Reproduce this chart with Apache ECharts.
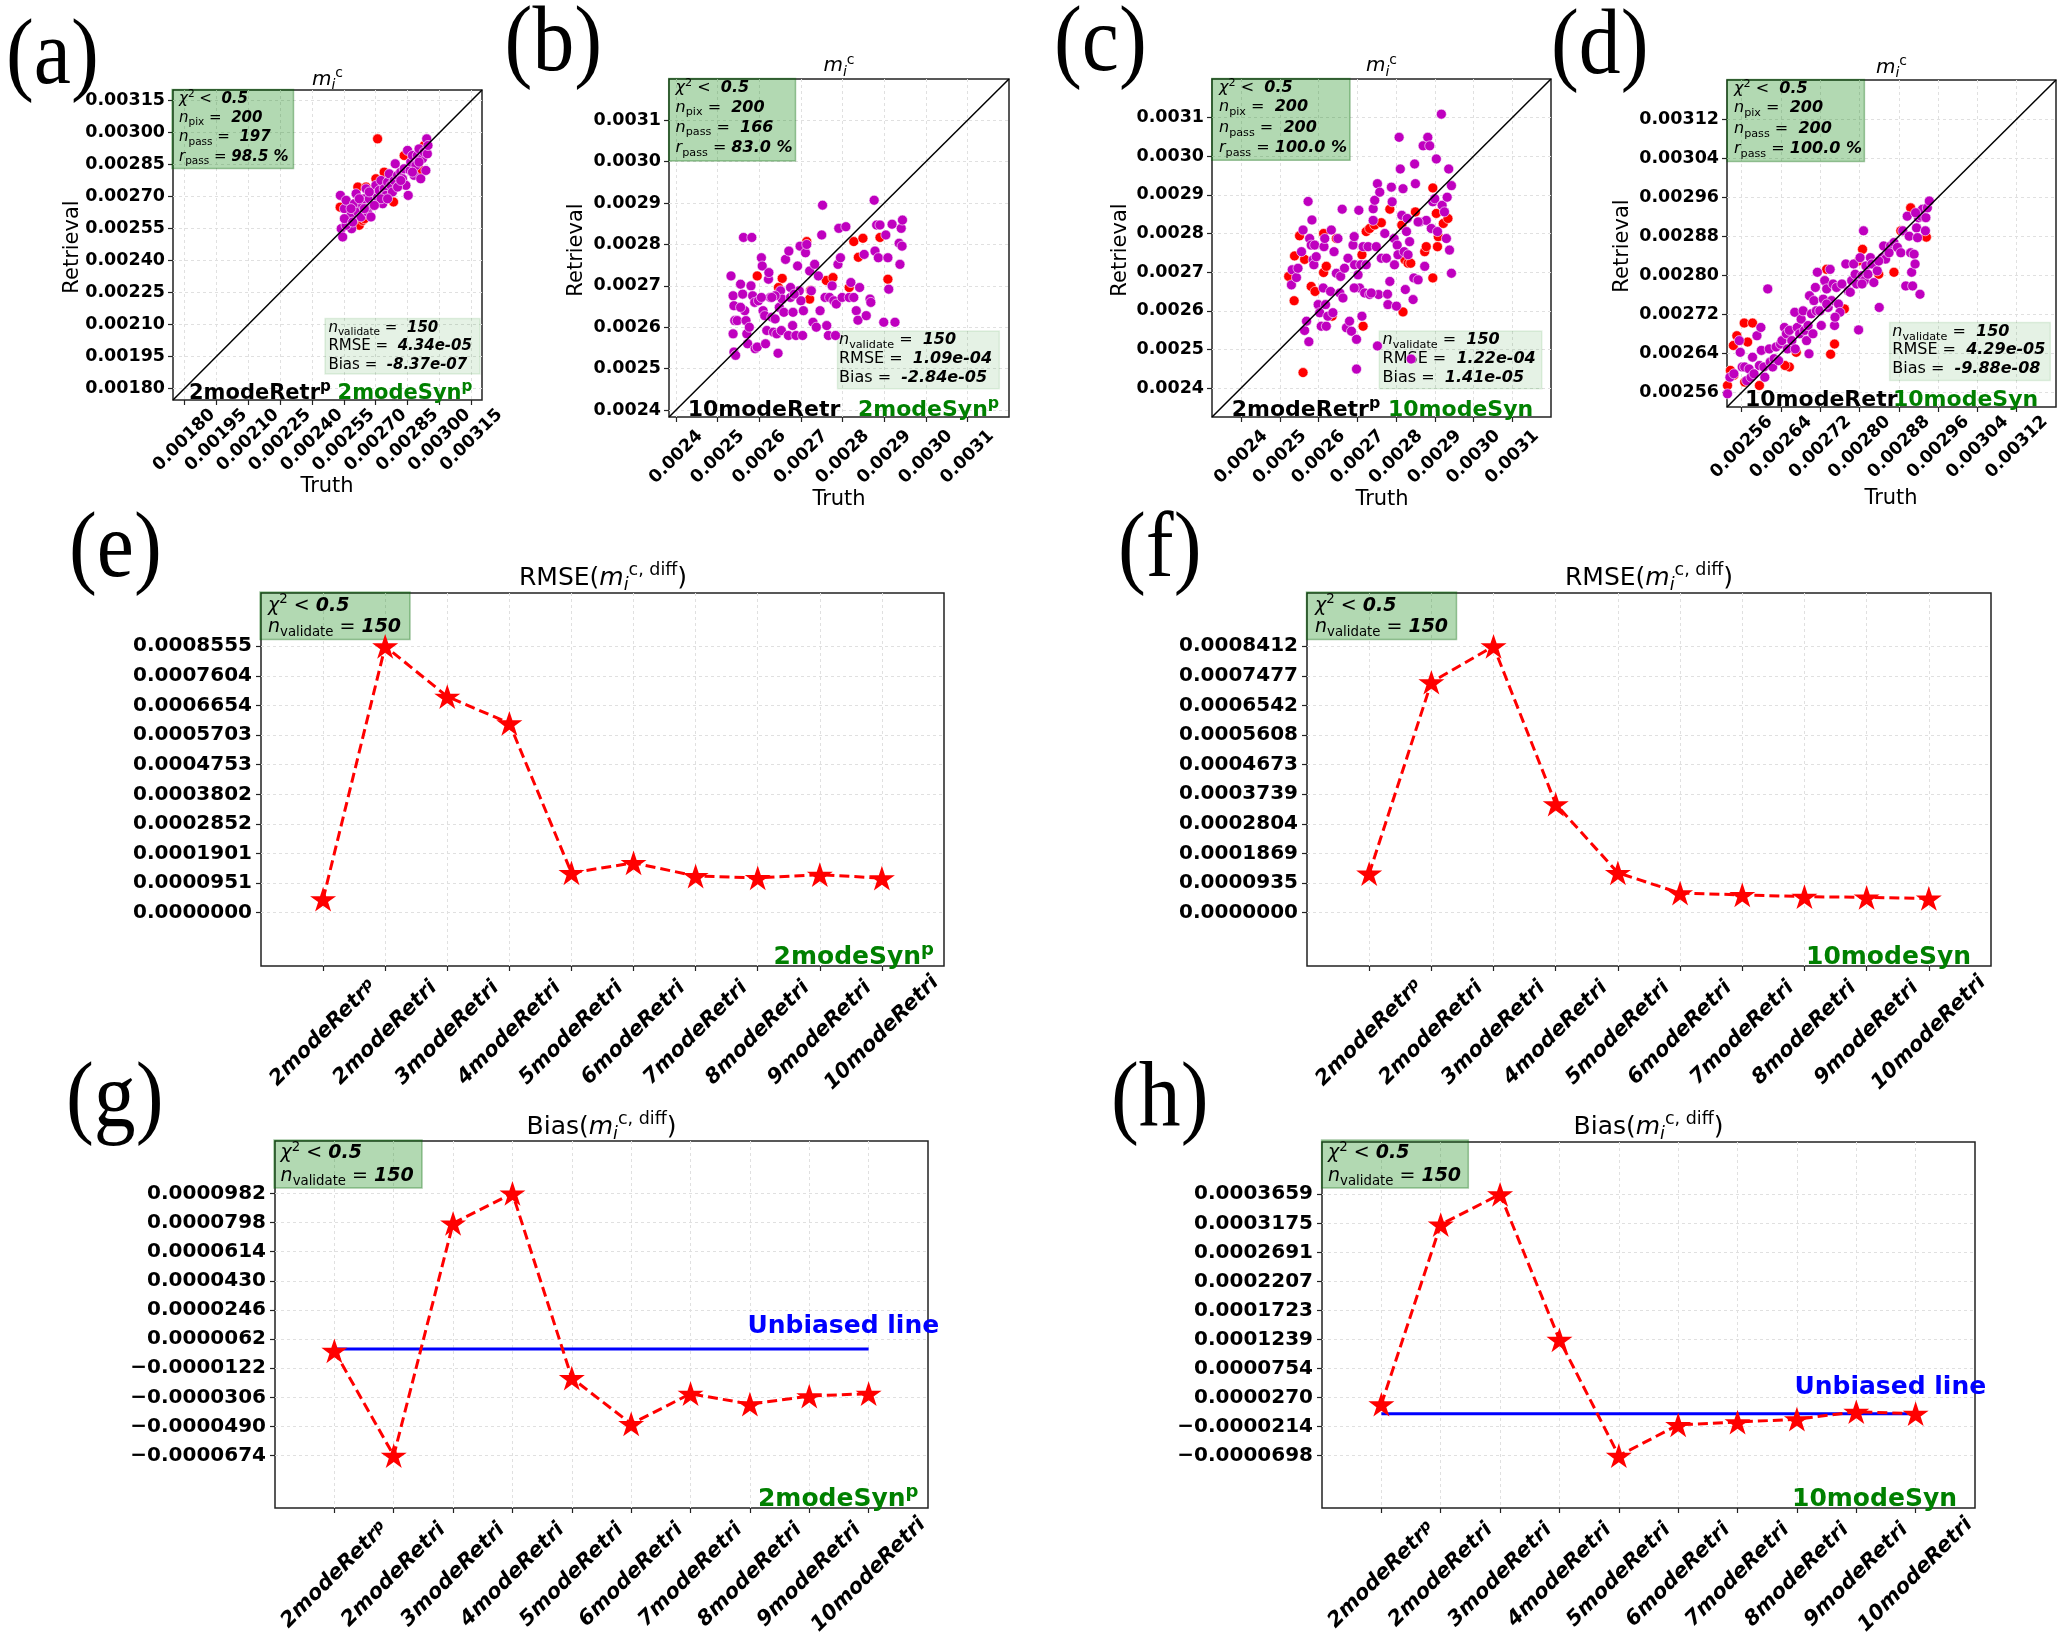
<!DOCTYPE html>
<html>
<head>
<meta charset="utf-8">
<script src="https://cdn.jsdelivr.net/npm/echarts@6.0.0/dist/echarts.min.js"></script>
<style>
html,body{margin:0;padding:0;background:#fff;}
#chart{width:2067px;height:1645px;}
</style>
</head>
<body>
<div id="chart"></div>
<script>
// ================= DATA =================
// tick labels
const ticksA  = [0.00180,0.00195,0.00210,0.00225,0.00240,0.00255,0.00270,0.00285,0.00300,0.00315];
const ticksBC = [0.0024,0.0025,0.0026,0.0027,0.0028,0.0029,0.0030,0.0031];
const ticksD  = [0.00256,0.00264,0.00272,0.00280,0.00288,0.00296,0.00304,0.00312];
const ticksE  = [0,0.0000951,0.0001901,0.0002852,0.0003802,0.0004753,0.0005703,0.0006654,0.0007604,0.0008555];
const ticksF  = [0,0.0000935,0.0001869,0.0002804,0.0003739,0.0004673,0.0005608,0.0006542,0.0007477,0.0008412];
const ticksG  = [-0.0000674,-0.0000490,-0.0000306,-0.0000122,0.0000062,0.0000246,0.0000430,0.0000614,0.0000798,0.0000982];
const ticksH  = [-0.0000698,-0.0000214,0.0000270,0.0000754,0.0001239,0.0001723,0.0002207,0.0002691,0.0003175,0.0003659];

// categories of bottom panels
const methods = ['2modeRetr^p','2modeRetri','3modeRetri','4modeRetri','5modeRetri','6modeRetri','7modeRetri','8modeRetri','9modeRetri','10modeRetri'];

// line values
const rmse2modeSyn  = [0.0000436,0.0008555,0.0006941,0.0006083,0.0001281,0.0001601,0.0001178,0.0001121,0.0001223,0.0001110];
const rmse10modeSyn = [0.0001237,0.0007276,0.0008412,0.0003431,0.0001259,0.0000620,0.0000564,0.0000507,0.0000485,0.0000450];
const bias2modeSyn  = [-0.0000012,-0.0000674,0.0000793,0.0000982,-0.0000184,-0.0000474,-0.0000283,-0.0000349,-0.0000298,-0.0000283];
const bias10modeSyn = [0.0000160,0.0003155,0.0003659,0.0001234,-0.0000698,-0.0000183,-0.0000138,-0.0000089,0.0000035,0.0000003];

// scatter points [truth, retrieval]
const aMagenta = [[0.002534,0.002706],[0.002538,0.002550],[0.002545,0.002511],[0.002553,0.002644],[0.002561,0.002683],[0.002569,0.002597],[0.002584,0.002612],[0.002587,0.002550],[0.002600,0.002667],[0.002608,0.002714],[0.002616,0.002628],[0.002631,0.002605],[0.002639,0.002659],[0.002647,0.002690],[0.002655,0.002737],[0.002662,0.002628],[0.002670,0.002690],[0.002678,0.002605],[0.002686,0.002659],[0.002694,0.002722],[0.002701,0.002753],[0.002709,0.002698],[0.002717,0.002729],[0.002725,0.002776],[0.002733,0.002667],[0.002740,0.002737],[0.002748,0.002706],[0.002756,0.002768],[0.002764,0.002807],[0.002772,0.002753],[0.002779,0.002722],[0.002787,0.002776],[0.002792,0.002854],[0.002803,0.002800],[0.002811,0.002753],[0.002818,0.002815],[0.002826,0.002784],[0.002834,0.002831],[0.002842,0.002753],[0.002850,0.002917],[0.002853,0.002706],[0.002862,0.002823],[0.002865,0.002862],[0.002873,0.002893],[0.002881,0.002800],[0.002889,0.002846],[0.002896,0.002893],[0.002904,0.002924],[0.002912,0.002784],[0.002920,0.002878],[0.002928,0.002909],[0.002936,0.002823],[0.002940,0.002971],[0.002943,0.002901],[0.002946,0.002940],[0.002584,0.002644],[0.002623,0.002690],[0.002647,0.002644],[0.002670,0.002722],[0.002725,0.002690],[0.002756,0.002690],[0.002803,0.002745],[0.002561,0.002566],[0.002818,0.002776],[0.002553,0.002597],[0.002592,0.002581],[0.002694,0.002659],[0.002873,0.002815],[0.002904,0.002862]];
const aRed = [[0.002709,0.002971],[0.002533,0.002651],[0.002623,0.002566],[0.002639,0.002589],[0.002616,0.002745],[0.002655,0.002745],[0.002701,0.002784],[0.002740,0.002815],[0.002784,0.002675],[0.002834,0.002893],[0.002912,0.002823],[0.002928,0.002940],[0.002647,0.002597],[0.002881,0.002878]];

const bMagenta = [[0.002532,0.002724],[0.002537,0.002676],[0.002539,0.002652],[0.002541,0.002616],[0.002537,0.002584],[0.002539,0.002540],[0.002543,0.002532],[0.002547,0.002616],[0.002555,0.002704],[0.002560,0.002680],[0.002562,0.002817],[0.002565,0.002640],[0.002568,0.002616],[0.002570,0.002584],[0.002572,0.002560],[0.002576,0.002600],[0.002580,0.002700],[0.002582,0.002817],[0.002584,0.002676],[0.002589,0.002660],[0.002590,0.002548],[0.002595,0.002552],[0.002598,0.002664],[0.002605,0.002768],[0.002607,0.002748],[0.002609,0.002640],[0.002613,0.002628],[0.002615,0.002560],[0.002618,0.002592],[0.002622,0.002716],[0.002623,0.002732],[0.002626,0.002672],[0.002630,0.002624],[0.002634,0.002588],[0.002638,0.002620],[0.002642,0.002584],[0.002645,0.002537],[0.002648,0.002648],[0.002651,0.002688],[0.002653,0.002592],[0.002655,0.002668],[0.002659,0.002636],[0.002663,0.002764],[0.002670,0.002580],[0.002671,0.002784],[0.002675,0.002672],[0.002680,0.002604],[0.002681,0.002636],[0.002688,0.002580],[0.002692,0.002748],[0.002696,0.002688],[0.002698,0.002796],[0.002700,0.002664],[0.002704,0.002580],[0.002706,0.002640],[0.002711,0.002780],[0.002714,0.002800],[0.002721,0.002736],[0.002725,0.002688],[0.002729,0.002612],[0.002733,0.002752],[0.002737,0.002600],[0.002742,0.002724],[0.002746,0.002640],[0.002750,0.002823],[0.002752,0.002895],[0.002758,0.002672],[0.002762,0.002604],[0.002766,0.002580],[0.002769,0.002672],[0.002775,0.002700],[0.002779,0.002664],[0.002783,0.002580],[0.002785,0.002656],[0.002789,0.002752],[0.002791,0.002839],[0.002795,0.002768],[0.002799,0.002672],[0.002808,0.002843],[0.002816,0.002672],[0.002820,0.002708],[0.002827,0.002672],[0.002833,0.002640],[0.002837,0.002617],[0.002841,0.002696],[0.002852,0.002776],[0.002857,0.002628],[0.002866,0.002668],[0.002868,0.002660],[0.002876,0.002907],[0.002878,0.002784],[0.002882,0.002847],[0.002886,0.002768],[0.002890,0.002847],[0.002899,0.002612],[0.002904,0.002823],[0.002909,0.002768],[0.002911,0.002692],[0.002919,0.002849],[0.002926,0.002612],[0.002936,0.002803],[0.002938,0.002752],[0.002941,0.002839],[0.002944,0.002859],[0.002943,0.002796],[0.002638,0.002676],[0.002675,0.002696],[0.002605,0.002672],[0.002555,0.002648],[0.002684,0.002680],[0.002630,0.002672]];
const bRed = [[0.002595,0.002724],[0.002655,0.002718],[0.002646,0.002696],[0.002723,0.002689],[0.002721,0.002668],[0.002714,0.002807],[0.002761,0.002713],[0.002777,0.002720],[0.002827,0.002807],[0.002849,0.002815],[0.002838,0.002769],[0.002890,0.002817],[0.002909,0.002716],[0.002816,0.002696]];

const cMagenta = [[0.002530,0.002667],[0.002532,0.002706],[0.002543,0.002686],[0.002547,0.002710],[0.002556,0.002753],[0.002560,0.002809],[0.002564,0.002549],[0.002569,0.002573],[0.002573,0.002883],[0.002575,0.002520],[0.002577,0.002787],[0.002581,0.002770],[0.002583,0.002835],[0.002586,0.002732],[0.002588,0.002719],[0.002590,0.002770],[0.002594,0.002740],[0.002599,0.002616],[0.002603,0.002595],[0.002607,0.002560],[0.002612,0.002659],[0.002614,0.002766],[0.002616,0.002787],[0.002618,0.002616],[0.002620,0.002560],[0.002624,0.002586],[0.002631,0.002650],[0.002633,0.002809],[0.002637,0.002595],[0.002640,0.002753],[0.002646,0.002697],[0.002650,0.002787],[0.002655,0.002646],[0.002657,0.002689],[0.002661,0.002863],[0.002663,0.002633],[0.002667,0.002710],[0.002672,0.002556],[0.002676,0.002736],[0.002680,0.002573],[0.002685,0.002547],[0.002689,0.002770],[0.002692,0.002792],[0.002693,0.002719],[0.002698,0.002526],[0.002698,0.002449],[0.002702,0.002693],[0.002704,0.002860],[0.002706,0.002659],[0.002709,0.002719],[0.002712,0.002586],[0.002715,0.002766],[0.002719,0.002646],[0.002723,0.002719],[0.002728,0.002766],[0.002732,0.002642],[0.002741,0.002864],[0.002741,0.002834],[0.002745,0.002886],[0.002749,0.002766],[0.002752,0.002929],[0.002755,0.002642],[0.002758,0.002907],[0.002762,0.002736],[0.002771,0.002800],[0.002775,0.002736],[0.002778,0.002643],[0.002779,0.002616],[0.002784,0.002676],[0.002788,0.002920],[0.002790,0.002882],[0.002795,0.002787],[0.002796,0.002719],[0.002801,0.002612],[0.002803,0.002770],[0.002805,0.002745],[0.002808,0.003049],[0.002811,0.002967],[0.002815,0.002847],[0.002818,0.002916],[0.002821,0.002753],[0.002824,0.002655],[0.002827,0.002805],[0.002829,0.002839],[0.002831,0.002745],[0.002835,0.002779],[0.002839,0.002475],[0.002844,0.002629],[0.002846,0.002685],[0.002848,0.002980],[0.002850,0.002929],[0.002857,0.002680],[0.002861,0.002830],[0.002870,0.003027],[0.002874,0.002715],[0.002878,0.002834],[0.002882,0.003049],[0.002887,0.003027],[0.002891,0.002813],[0.002895,0.002882],[0.002900,0.002890],[0.002904,0.002993],[0.002907,0.002805],[0.002917,0.003109],[0.002919,0.002873],[0.002925,0.002856],[0.002930,0.002787],[0.002932,0.002894],[0.002936,0.002967],[0.002938,0.002757],[0.002943,0.002924],[0.002943,0.002697],[0.002752,0.002509],[0.002736,0.002646],[0.002692,0.002659],[0.002857,0.002830]];
const cRed = [[0.002523,0.002689],[0.002538,0.002742],[0.002551,0.002794],[0.002537,0.002626],[0.002564,0.002733],[0.002581,0.002663],[0.002591,0.002650],[0.002613,0.002800],[0.002613,0.002699],[0.002620,0.002715],[0.002635,0.002586],[0.002646,0.002787],[0.002715,0.002560],[0.002712,0.002745],[0.002723,0.002805],[0.002732,0.002813],[0.002745,0.002822],[0.002762,0.002828],[0.002784,0.002863],[0.002815,0.002822],[0.002823,0.002732],[0.002831,0.002723],[0.002838,0.002723],[0.002818,0.002597],[0.002850,0.002856],[0.002874,0.002753],[0.002878,0.002766],[0.002895,0.002685],[0.002895,0.002918],[0.002907,0.002766],[0.002909,0.002792],[0.002922,0.002826],[0.002934,0.002839],[0.002904,0.002852],[0.002560,0.002440]];

const dMagenta = [[0.002531,0.002557],[0.002536,0.002591],[0.002544,0.002598],[0.002555,0.002666],[0.002557,0.002642],[0.002561,0.002612],[0.002566,0.002612],[0.002570,0.002584],[0.002575,0.002608],[0.002579,0.002591],[0.002582,0.002632],[0.002585,0.002598],[0.002591,0.002676],[0.002596,0.002615],[0.002599,0.002693],[0.002600,0.002646],[0.002605,0.002612],[0.002607,0.002591],[0.002613,0.002772],[0.002616,0.002649],[0.002618,0.002622],[0.002623,0.002612],[0.002626,0.002629],[0.002630,0.002653],[0.002635,0.002625],[0.002639,0.002659],[0.002642,0.002666],[0.002647,0.002693],[0.002651,0.002680],[0.002653,0.002649],[0.002657,0.002687],[0.002662,0.002666],[0.002668,0.002724],[0.002669,0.002649],[0.002673,0.002693],[0.002678,0.002680],[0.002681,0.002710],[0.002685,0.002727],[0.002688,0.002687],[0.002692,0.002666],[0.002695,0.002697],[0.002697,0.002639],[0.002698,0.002758],[0.002702,0.002721],[0.002705,0.002680],[0.002707,0.002748],[0.002710,0.002775],[0.002712,0.002727],[0.002714,0.002806],[0.002719,0.002727],[0.002722,0.002697],[0.002726,0.002751],[0.002729,0.002789],[0.002733,0.002772],[0.002736,0.002734],[0.002740,0.002812],[0.002743,0.002748],[0.002746,0.002782],[0.002749,0.002697],[0.002753,0.002775],[0.002757,0.002741],[0.002760,0.002724],[0.002764,0.002782],[0.002772,0.002823],[0.002777,0.002768],[0.002781,0.002765],[0.002784,0.002789],[0.002788,0.002823],[0.002791,0.002802],[0.002794,0.002782],[0.002798,0.002688],[0.002801,0.002836],[0.002805,0.002799],[0.002808,0.002891],[0.002810,0.002789],[0.002813,0.002819],[0.002817,0.002802],[0.002822,0.002836],[0.002825,0.002823],[0.002829,0.002785],[0.002836,0.002809],[0.002840,0.002734],[0.002846,0.002836],[0.002849,0.002860],[0.002853,0.002833],[0.002863,0.002860],[0.002870,0.002867],[0.002877,0.002857],[0.002884,0.002846],[0.002888,0.002891],[0.002894,0.002778],[0.002901,0.002880],[0.002904,0.002846],[0.002906,0.002806],[0.002908,0.002778],[0.002911,0.002843],[0.002913,0.002823],[0.002916,0.002897],[0.002918,0.002877],[0.002920,0.002918],[0.002923,0.002761],[0.002925,0.002921],[0.002928,0.002935],[0.002934,0.002891],[0.002935,0.002918],[0.002938,0.002938],[0.002942,0.002952],[0.002897,0.002921],[0.002914,0.002928],[0.002839,0.002829],[0.002860,0.002846],[0.002750,0.002714],[0.002805,0.002782],[0.002733,0.002741]];
const dRed = [[0.002537,0.002605],[0.002544,0.002595],[0.002543,0.002656],[0.002550,0.002676],[0.002565,0.002702],[0.002582,0.002702],[0.002572,0.002663],[0.002566,0.002581],[0.002596,0.002574],[0.002531,0.002574],[0.002657,0.002612],[0.002648,0.002615],[0.002671,0.002642],[0.002733,0.002812],[0.002749,0.002659],[0.002741,0.002638],[0.002769,0.002731],[0.002806,0.002853],[0.002870,0.002806],[0.002884,0.002891],[0.002904,0.002938],[0.002936,0.002878],[0.002798,0.002829],[0.002839,0.002802]];

// annotation texts
const statsTop = [
  ['200','197','98.5 %','150','4.34e-05','-8.37e-07'],
  ['200','166','83.0 %','150','1.09e-04','-2.84e-05'],
  ['200','200','100.0 %','150','1.22e-04','1.41e-05'],
  ['200','200','100.0 %','150','4.29e-05','-9.88e-08']
];
const retrNames = ['2modeRetr^p','10modeRetr','2modeRetr^p','10modeRetr'];
const synNames  = ['2modeSyn^p','2modeSyn^p','10modeSyn','10modeSyn'];

// ================= CHART =================
const FONT = 'DejaVu Sans';
const chart = echarts.init(document.getElementById('chart'));
const grids = [], xAxes = [], yAxes = [], series = [], graphics = [];

const STAR = 'path://M0,-1L0.2245,-0.309L0.951,-0.309L0.363,0.118L0.588,0.809L0,0.382L-0.588,0.809L-0.363,0.118L-0.951,-0.309L-0.2245,-0.309Z';
const GRIDLINE = {show:true, lineStyle:{color:'#e0e0e0', type:[3,3], width:1}};

function richSet(fs, color){
  const b = {fontFamily:FONT, fill:color};
  return {
    n:   Object.assign({}, b, {fontSize:fs, lineHeight:fs*1.3}),
    it:  Object.assign({}, b, {fontSize:fs, lineHeight:fs*1.3, fontStyle:'italic'}),
    b:   Object.assign({}, b, {fontSize:fs, lineHeight:fs*1.3, fontWeight:'bold'}),
    bi:  Object.assign({}, b, {fontSize:fs, lineHeight:fs*1.3, fontWeight:'bold', fontStyle:'italic'}),
    sub: Object.assign({}, b, {fontSize:fs*0.7, lineHeight:fs*0.7, verticalAlign:'bottom'}),
    subi:Object.assign({}, b, {fontSize:fs*0.7, lineHeight:fs*0.7, verticalAlign:'bottom', fontStyle:'italic'}),
    sup: Object.assign({}, b, {fontSize:fs*0.7, lineHeight:fs*0.7, verticalAlign:'top'}),
    bsup:Object.assign({}, b, {fontSize:fs*0.72, lineHeight:fs*0.72, verticalAlign:'top', fontWeight:'bold'})
  };
}
function rtext(x, y, text, fs, color, align, extra){
  return Object.assign({type:'text', x:x, y:y, z:1, z2:20, silent:true,
    style:{text:text, rich:richSet(fs, color||'#000'), fontFamily:FONT, fontSize:fs, fill:color||'#000',
           align:align||'left', verticalAlign:'middle'}}, extra||{});
}
function rect(x, y, w, h, fill, stroke){
  return {type:'rect', z:1, z2:5, silent:true, shape:{x:x, y:y, width:w, height:h},
          style:{fill:fill, stroke:stroke, lineWidth:1.5}};
}
function letter(t, x, y){
  return {type:'text', x:x-4, y:y, z:1, silent:true, scaleX:0.89, scaleY:1,
          style:{text:t, fontFamily:'Liberation Serif', fontSize:94, fill:'#000', align:'left', verticalAlign:'middle'}};
}
const boldSup = s => s.replace('^p','}{bsup|p}{b|');

// ---------- top scatter panels ----------
const topPanels = [
  {box:[173,90,309,310], range:[0.001747,0.0032], ticks:ticksA, dec:5, red:aRed, mag:aMagenta, fsBox:15, fsLab:21,
   tl:[172,89.5,121.5,79,179,[99,118,137.6,157.5]], br:[325,318.4,155,55.6,328.4,[328,346.6,365]],
   lab:[189,337.6,400], title:[327.5,79.6], truth:[327,487], retr:[73,247], letter:['(a)',10,58]},
  {box:[669,79,340,338], range:[0.002383,0.0032], ticks:ticksBC, dec:4, red:bRed, mag:bMagenta, fsBox:16, fsLab:22,
   tl:[668.7,78.6,126.8,82.3,675.6,[88,107.5,127.5,148]], br:[837.5,331,161.8,57.7,839,[340,359,378]],
   lab:[687.7,858,417], title:[839,66], truth:[839,500], retr:[577,250], letter:['(b)',508.6,45.5]},
  {box:[1212,79,339,338], range:[0.002325,0.0032], ticks:ticksBC, dec:4, red:cRed, mag:cMagenta, fsBox:16, fsLab:22,
   tl:[1211.8,78.6,138.2,81.6,1219,[88,106.8,127.7,148.3]], br:[1379.3,331,162.5,57.7,1382.6,[340,359,378]],
   lab:[1231.7,1388,417], title:[1381.5,66], truth:[1382,500], retr:[1121,250], letter:['(c)',1058,45.5]},
  {box:[1727,80,329,327], range:[0.00253,0.0032], ticks:ticksD, dec:5, red:dRed, mag:dMagenta, fsBox:16, fsLab:22,
   tl:[1727,79.6,137.4,81.9,1734,[89,107.8,128.7,149]], br:[1889.6,322.4,160.7,58,1892.3,[331.7,350,368.8]],
   lab:[1745,1893,407], title:[1891.5,67.6], truth:[1891,499], retr:[1623,246], letter:['(d)',1555,48]}
];

topPanels.forEach((p, k) => {
  const gi = grids.length;
  grids.push({left:p.box[0], top:p.box[1], width:p.box[2], height:p.box[3], show:true,
              borderColor:'#222', borderWidth:1.5, backgroundColor:'transparent', containLabel:false});
  const mk = () => ({
    type:'value', gridIndex:gi, min:p.range[0], max:p.range[1],
    axisLine:{show:false, onZero:false},
    axisTick:{show:true, customValues:p.ticks, length:5, lineStyle:{color:'#222', width:1.2}},
    splitLine:GRIDLINE,
    axisLabel:{customValues:p.ticks, formatter:v => v.toFixed(p.dec), fontFamily:FONT, fontWeight:'bold', fontSize:17.5, color:'#000'}
  });
  const xa = mk();
  Object.assign(xa.axisLabel, {rotate:45, align:'center', verticalAlign:'middle', margin:40});
  const ya = mk();
  ya.axisLabel.margin = 8;
  xAxes.push(xa); yAxes.push(ya);
  const xi = xAxes.length-1, yi = yAxes.length-1;
  series.push({type:'scatter', xAxisIndex:xi, yAxisIndex:yi, data:p.red, symbolSize:10, z:2,
               itemStyle:{color:'#ff0000', borderColor:'#ffffff', borderWidth:0.6, opacity:1}});
  series.push({type:'scatter', xAxisIndex:xi, yAxisIndex:yi, data:p.mag, symbolSize:10, z:3,
               itemStyle:{color:'#bf00bf', borderColor:'#ffffff', borderWidth:0.6, opacity:1}});
  series.push({type:'line', xAxisIndex:xi, yAxisIndex:yi, data:[[p.range[0],p.range[0]],[p.range[1],p.range[1]]],
               symbol:'none', z:4, lineStyle:{color:'#000', width:1.5}});

  const st = statsTop[k];
  graphics.push(rect(p.tl[0],p.tl[1],p.tl[2],p.tl[3],'rgba(0,128,0,0.30)','rgba(0,100,0,0.35)'));
  const tlLines = ['{it|χ}{sup|2}{n| <  }{bi|0.5}', '{it|n}{sub|pix}{n| =  }{bi|'+st[0]+'}',
                   '{it|n}{sub|pass}{n| =  }{bi|'+st[1]+'}', '{it|r}{sub|pass}{n| = }{bi|'+st[2]+'}'];
  tlLines.forEach((t,i) => graphics.push(rtext(p.tl[4], p.tl[5][i], t, p.fsBox)));
  graphics.push(rect(p.br[0],p.br[1],p.br[2],p.br[3],'rgba(0,128,0,0.10)','rgba(0,128,0,0.10)'));
  const brLines = ['{it|n}{sub|validate}{n| =  }{bi|'+st[3]+'}', '{n|RMSE =  }{bi|'+st[4]+'}', '{n|Bias =  }{bi|'+st[5]+'}'];
  brLines.forEach((t,i) => graphics.push(rtext(p.br[4], p.br[5][i], t, p.fsBox)));
  graphics.push(rtext(p.lab[0], p.lab[2]-0.3*p.fsLab, '{b|'+boldSup(retrNames[k])+'}', p.fsLab, '#000'));
  graphics.push(rtext(p.lab[1], p.lab[2]-0.3*p.fsLab, '{b|'+boldSup(synNames[k])+'}', p.fsLab, '#008000'));
  graphics.push(rtext(p.title[0], p.title[1], '{it|m}{subi|i}{sup|c}', 20, '#000', 'center'));
  graphics.push(rtext(p.truth[0], p.truth[1], '{n|Truth}', 21, '#000', 'center'));
  graphics.push(rtext(p.retr[0], p.retr[1], '{n|Retrieval}', 21, '#000', 'center', {rotation:Math.PI/2}));
  graphics.push(letter(p.letter[0], p.letter[1], p.letter[2]));
});

// ---------- bottom line panels ----------
const idx = methods.map((m,i) => i+1);
const fmt7 = v => (v < 0 ? '\u2212' : '') + Math.abs(v).toFixed(7);
const bottomPanels = [
  {box:[261,593,683,373], yr:[-0.0001711,0.0010266], ticks:ticksE, vals:rmse2modeSyn, unb:false, name:'RMSE', syn:'2modeSyn^p',
   tl:[260,592,150,47.6,268,[605.7,627]], synPos:[934,965], title:[603,578], letter:['(e)',73,551]},
  {box:[1307,593,684,373], yr:[-0.0001682,0.0010094], ticks:ticksF, vals:rmse10modeSyn, unb:false, name:'RMSE', syn:'10modeSyn',
   tl:[1306.5,592,150,47.6,1315,[605.7,627]], synPos:[1971,965], title:[1649,578], letter:['(f)',1122,551]},
  {box:[275,1141,653,367], yr:[-0.0001005,0.0001313], ticks:ticksG, vals:bias2modeSyn, unb:true, name:'Bias', syn:'2modeSyn^p',
   tl:[274,1140,148,48,280.6,[1153.3,1175.7]], synPos:[918.4,1507], title:[601.5,1127], unbPos:[747.4,1326.5], letter:['(g)',70,1101]},
  {box:[1322,1142,653,366], yr:[-0.0001569,0.0004530], ticks:ticksH, vals:bias10modeSyn, unb:true, name:'Bias', syn:'10modeSyn',
   tl:[1321.6,1140,146.7,48,1328,[1153.3,1175.7]], synPos:[1957,1507], title:[1648.5,1127], unbPos:[1794.4,1387.5], letter:['(h)',1115,1101]}
];

bottomPanels.forEach(p => {
  const gi = grids.length;
  grids.push({left:p.box[0], top:p.box[1], width:p.box[2], height:p.box[3], show:true,
              borderColor:'#222', borderWidth:1.5, backgroundColor:'transparent', containLabel:false});
  xAxes.push({type:'value', gridIndex:gi, min:0, max:methods.length+1, position:'bottom',
    axisLine:{show:false, onZero:false},
    axisTick:{show:true, customValues:idx, length:5, lineStyle:{color:'#222', width:1.2}},
    splitLine:GRIDLINE,
    axisLabel:{customValues:idx, formatter:v => methods[Math.round(v)-1].replace('^p','{p|p}'),
      rotate:45, align:'center', verticalAlign:'middle', margin:67,
      fontFamily:FONT, fontWeight:'bold', fontStyle:'italic', fontSize:21, color:'#000',
      rich:{p:{fontFamily:FONT, fontStyle:'italic', fontSize:15, color:'#000', verticalAlign:'top', lineHeight:15}}}
  });
  yAxes.push({type:'value', gridIndex:gi, min:p.yr[0], max:p.yr[1], position:'left',
    axisLine:{show:false, onZero:false},
    axisTick:{show:true, customValues:p.ticks, length:5, lineStyle:{color:'#222', width:1.2}},
    splitLine:GRIDLINE,
    axisLabel:{customValues:p.ticks, formatter:fmt7, margin:9, fontFamily:FONT, fontWeight:'bold', fontSize:20, color:'#000'}
  });
  const xi = xAxes.length-1, yi = yAxes.length-1;
  if (p.unb) {
    series.push({type:'line', xAxisIndex:xi, yAxisIndex:yi, data:[[1,0],[methods.length,0]], symbol:'none', z:3,
                 lineStyle:{color:'#0000ff', width:3}});
  }
  series.push({type:'line', xAxisIndex:xi, yAxisIndex:yi, data:p.vals.map((v,i) => [i+1, v]), z:4,
               symbol:STAR, symbolSize:26, symbolKeepAspect:true, showSymbol:true,
               itemStyle:{color:'#ff0000'}, lineStyle:{color:'#ff0000', width:3, type:[10,5]}});

  graphics.push(rect(p.tl[0],p.tl[1],p.tl[2],p.tl[3],'rgba(0,128,0,0.30)','rgba(0,100,0,0.35)'));
  graphics.push(rtext(p.tl[4], p.tl[5][0], '{it|χ}{sup|2}{n| < }{bi|0.5}', 19));
  graphics.push(rtext(p.tl[4], p.tl[5][1], '{it|n}{sub|validate}{n| = }{bi|150}', 19));
  graphics.push(rtext(p.synPos[0], p.synPos[1]-7.5, '{b|'+boldSup(p.syn)+'}', 25, '#008000', 'right'));
  graphics.push(rtext(p.title[0], p.title[1], '{n|'+p.name+'(}{it|m}{subi|i}{sup|c, diff}{n|)}', 25, '#000', 'center'));
  if (p.unb) graphics.push(rtext(p.unbPos[0], p.unbPos[1], '{b|Unbiased line}', 25, '#0000ff'));
  graphics.push(letter(p.letter[0], p.letter[1], p.letter[2]));
});

chart.setOption({
  backgroundColor:'#ffffff',
  animation:false,
  grid:grids, xAxis:xAxes, yAxis:yAxes, series:series,
  graphic:{elements:graphics}
});
</script>
</body>
</html>
